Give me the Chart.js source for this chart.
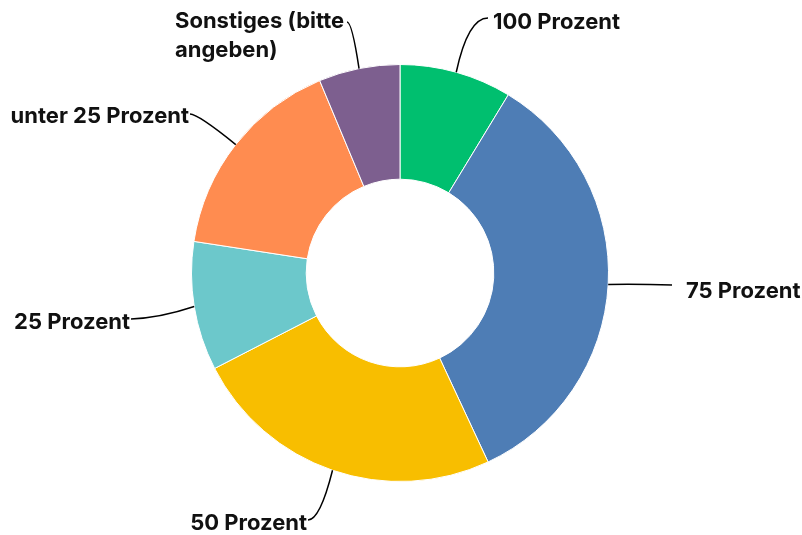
<!DOCTYPE html>
<html>
<head>
<meta charset="utf-8">
<script src="https://cdn.jsdelivr.net/npm/chart.js@4/dist/chart.umd.min.js"></script>
<style>
  html, body { margin: 0; padding: 0; background: #fff; }
  #wrap { width: 802px; height: 535px; position: relative; }
</style>
</head>
<body>
<div id="wrap"><canvas id="donut"></canvas></div>
<script>
// data (share in percent, clockwise from 12 o'clock)
const categories = ['100 Prozent', '75 Prozent', '50 Prozent', '25 Prozent', 'unter 25 Prozent', 'Sonstiges (bitte angeben)'];
const shares = [8.7, 34.4, 24.4, 10.0, 16.3, 6.3];
const sliceColors = ['#00BF6F', '#4E7DB5', '#F8BE00', '#6CC8CB', '#FF8C50', '#7D5F8F'];

// label placement: text lines, where the leader line ends, the bend point, text anchor
const labelLayout = [
    { lines: ['100 Prozent'], end: [488, 18], bend: [468, 18], tx: 493, ty: 22, align: 'left' },
    { lines: ['75 Prozent'], end: [672, 285], bend: [640, 284], tx: 686, ty: 291, align: 'left' },
    { lines: ['50 Prozent'], end: [308, 520], bend: [320, 520], tx: 307, ty: 523, align: 'right' },
    { lines: ['25 Prozent'], end: [131, 319], bend: [160, 318], tx: 130, ty: 322, align: 'right' },
    { lines: ['unter 25 Prozent'], end: [190, 114], bend: [198, 114], tx: 189, ty: 116, align: 'right' },
    { lines: ['Sonstiges (bitte', 'angeben)'], end: [347, 22], bend: [352, 22], tx: 175, ty: 21, align: 'left' }
];

const FONT = '700 22px Inter, "Noto Sans", sans-serif';

const leaderLabels = {
    id: 'leaderLabels',
    afterDraw(chart) {
        const ctx = chart.ctx;
        const arcs = chart.getDatasetMeta(0).data;
        ctx.save();
        arcs.forEach((arc, i) => {
            const lay = labelLayout[i];
            const mid = (arc.startAngle + arc.endAngle) / 2;
            const sx = arc.x + Math.cos(mid) * arc.outerRadius;
            const sy = arc.y + Math.sin(mid) * arc.outerRadius;
            ctx.beginPath();
            ctx.moveTo(sx, sy);
            ctx.quadraticCurveTo(lay.bend[0], lay.bend[1], lay.end[0], lay.end[1]);
            ctx.strokeStyle = '#000';
            ctx.lineWidth = 1.5;
            ctx.stroke();

            ctx.fillStyle = '#111';
            ctx.font = FONT;
            ctx.textAlign = lay.align;
            ctx.textBaseline = 'middle';
            lay.lines.forEach((t, k) => ctx.fillText(t, lay.tx, lay.ty + k * 29));
        });
        ctx.restore();
    }
};

new Chart(document.getElementById('donut'), {
    type: 'doughnut',
    data: {
        labels: categories,
        datasets: [{
            data: shares,
            backgroundColor: sliceColors,
            borderColor: '#ffffff',
            borderWidth: 1
        }]
    },
    options: {
        responsive: true,
        maintainAspectRatio: false,
        animation: false,
        cutout: '45%',
        layout: { padding: { top: 64, bottom: 53, left: 191, right: 193 } },
        plugins: {
            legend: { display: false },
            tooltip: { enabled: false }
        }
    },
    plugins: [leaderLabels]
});
</script>
</body>
</html>
